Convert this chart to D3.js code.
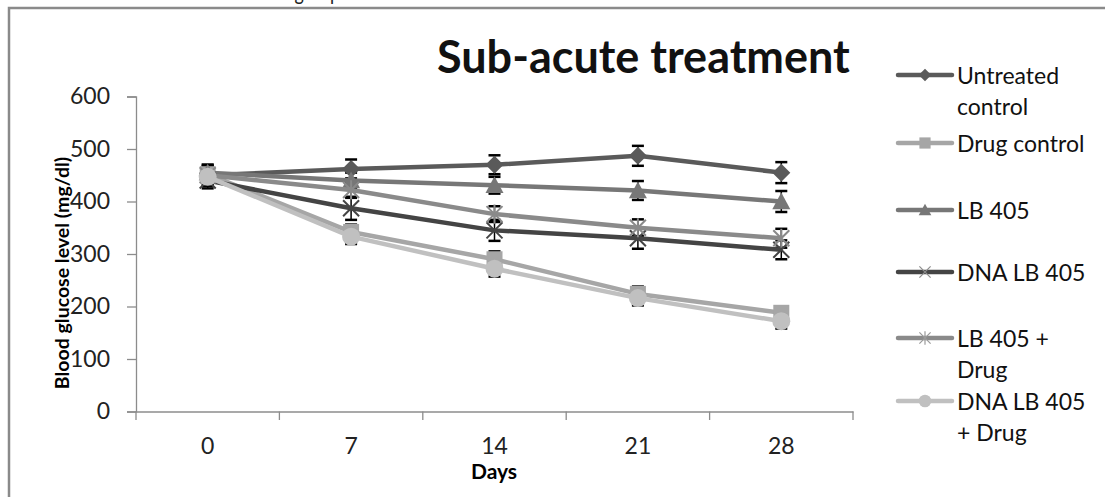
<!DOCTYPE html>
<html>
<head>
<meta charset="utf-8">
<script src="https://cdn.jsdelivr.net/npm/d3@7"></script>
<style>
  body { margin: 0; background: #fff; }
  svg { display: block; font-family: Lato, "Open Sans", sans-serif; }
</style>
</head>
<body>
<div id="chart"></div>
<script>
// days on the x axis
const days = ["0", "7", "14", "21", "28"];
const yTicks = [0, 100, 200, 300, 400, 500, 600];

// series (mean blood glucose, mg/dl) and their error bars
const seriesNames = ["Untreated control", "Drug control", "LB 405", "DNA LB 405", "LB 405 + Drug", "DNA LB 405 + Drug"];
const untreated = [450, 462, 470, 487, 455];
const drugControl = [452, 342, 290, 224, 188];
const lb405 = [455, 440, 431, 421, 400];
const dnaLb405 = [440, 387, 345, 330, 308];
const lb405Drug = [450, 422, 376, 350, 330];
const dnaLb405Drug = [447, 333, 272, 216, 172];

const untreatedErr = [20, 18, 18, 19, 20];
const drugControlErr = [15, 14, 15, 14, 12];
const lb405Err = [15, 15, 16, 18, 20];
const dnaLb405Err = [15, 22, 20, 20, 18];
const lb405DrugErr = [15, 15, 15, 16, 18];
const dnaLb405DrugErr = [15, 14, 15, 14, 14];

const width = 1105, height = 497;
const svg = d3.select("#chart").append("svg")
    .attr("width", width)
    .attr("height", height);

// caption above the frame, cut by the top edge like in the source
svg.append("text")
    .attr("x", 15).attr("y", 0)
    .attr("font-size", 22)
    .attr("fill", "#222")
    .attr("textLength", 325)
    .attr("lengthAdjust", "spacingAndGlyphs")
    .text("serum of the treated and untreated group");

// outer frame (runs off the page right and bottom)
svg.append("rect")
    .attr("x", 9).attr("y", 8)
    .attr("width", 1200).attr("height", 600)
    .attr("fill", "#fff")
    .attr("stroke", "#8a8a8a")
    .attr("stroke-width", 2.5);

const x = d3.scaleBand().domain(days).range([136, 853]);
const y = d3.scaleLinear().domain([0, 600]).range([411.5, 96.5]);

// axes
const yAxis = svg.append("g")
    .attr("transform", "translate(136,0)")
    .call(d3.axisLeft(y).tickValues(yTicks).tickSize(9).tickPadding(17));
const xAxis = svg.append("g")
    .attr("transform", "translate(0,411.5)")
    .call(d3.axisBottom(x).tickSize(0).tickPadding(26));

[yAxis, xAxis].forEach(g => {
    g.select(".domain").attr("stroke", "#8c8c8c").attr("stroke-width", 1.3);
    g.selectAll(".tick line").attr("stroke", "#8c8c8c").attr("stroke-width", 1.3);
    g.selectAll(".tick text").attr("font-size", 23).attr("fill", "#222")
        .attr("font-family", "Lato, sans-serif");
});

// category boundary ticks on x axis
svg.append("g").selectAll("line")
    .data(days.concat(["end"]))
    .join("line")
    .attr("x1", (d, i) => 136 + i * x.bandwidth())
    .attr("x2", (d, i) => 136 + i * x.bandwidth())
    .attr("y1", 411.5).attr("y2", 420)
    .attr("stroke", "#8c8c8c").attr("stroke-width", 1.3);

// axis titles
svg.append("text")
    .attr("x", 494).attr("y", 479)
    .attr("text-anchor", "middle")
    .attr("font-size", 21).attr("font-weight", "bold")
    .text("Days");

svg.append("text")
    .attr("transform", "translate(69,273) rotate(-90)")
    .attr("text-anchor", "middle")
    .attr("font-size", 19.5).attr("font-weight", "bold")
    .text("Blood glucose level (mg/dl)");

// chart title
const title = svg.append("text")
    .attr("x", 437).attr("y", 73)
    .attr("font-size", 38).attr("font-weight", "bold")
    .attr("fill", "#111")
    .text("Sub-acute treatment");
const tw = title.node().getComputedTextLength();
title.attr("font-size", 38 * 413 / tw);

const series = [
    {name: seriesNames[0], values: untreated, err: untreatedErr, color: "#5a5a5a", marker: "diamond"},
    {name: seriesNames[1], values: drugControl, err: drugControlErr, color: "#a6a6a6", marker: "square"},
    {name: seriesNames[2], values: lb405, err: lb405Err, color: "#777777", marker: "triangle"},
    {name: seriesNames[3], values: dnaLb405, err: dnaLb405Err, color: "#444444", marker: "x"},
    {name: seriesNames[4], values: lb405Drug, err: lb405DrugErr, color: "#8a8a8a", marker: "star"},
    {name: seriesNames[5], values: dnaLb405Drug, err: dnaLb405DrugErr, color: "#c0c0c0", marker: "circle"}
];

const cx = d => x(d) + x.bandwidth() / 2;

// error bars
const eb = svg.append("g");
series.forEach(s => {
    days.forEach((d, i) => {
        const v = s.values[i], e = s.err[i];
        eb.append("line")
            .attr("x1", cx(d)).attr("x2", cx(d))
            .attr("y1", y(v - e)).attr("y2", y(v + e))
            .attr("stroke", "#000").attr("stroke-width", 1.5);
        [v - e, v + e].forEach(t => {
            eb.append("line")
                .attr("x1", cx(d) - 6).attr("x2", cx(d) + 6)
                .attr("y1", y(t)).attr("y2", y(t))
                .attr("stroke", "#000").attr("stroke-width", 2.5);
        });
    });
});

function drawMarker(g, type, px, py, color, big) {
    const k = big ? 1 : 0.7;
    if (type === "diamond") {
        const r = 9 * k;
        g.append("path").attr("d", `M${px},${py - r}L${px + r},${py}L${px},${py + r}L${px - r},${py}Z`)
            .attr("fill", color);
    } else if (type === "square") {
        const r = 8 * k;
        g.append("rect").attr("x", px - r).attr("y", py - r).attr("width", 2 * r).attr("height", 2 * r)
            .attr("fill", color);
    } else if (type === "triangle") {
        const r = 9 * k;
        g.append("path").attr("d", `M${px},${py - r}L${px + r},${py + r * 0.85}L${px - r},${py + r * 0.85}Z`)
            .attr("fill", color);
    } else if (type === "x") {
        const r = 8 * k;
        g.append("path").attr("d", `M${px - r},${py - r}L${px + r},${py + r}M${px - r},${py + r}L${px + r},${py - r}`)
            .attr("stroke", big ? color : "#8c8c8c").attr("stroke-width", big ? 2 : 1.2);
    } else if (type === "star") {
        const r = 8 * k;
        g.append("path").attr("d", `M${px - r},${py - r}L${px + r},${py + r}M${px - r},${py + r}L${px + r},${py - r}M${px},${py - r * 1.2}L${px},${py + r * 1.2}`)
            .attr("stroke", big ? color : "#9a9a9a").attr("stroke-width", big ? 2 : 1.2);
    } else if (type === "circle") {
        g.append("circle").attr("cx", px).attr("cy", py).attr("r", 9 * k)
            .attr("fill", color);
    }
}

// lines + markers
const line = d3.line().x((v, i) => cx(days[i])).y(v => y(v));
const lg = svg.append("g");
series.forEach(s => {
    lg.append("path")
        .attr("d", line(s.values))
        .attr("fill", "none")
        .attr("stroke", s.color)
        .attr("stroke-width", 4.5)
        .attr("stroke-linejoin", "round");
    s.values.forEach((v, i) => drawMarker(lg, s.marker, cx(days[i]), y(v), s.color, true));
});

// legend
const legendY = [75, 143, 210, 272, 338, 401];
const legendLines = [["Untreated", "control"], ["Drug control"], ["LB 405"], ["DNA LB 405"], ["LB 405 +", "Drug"], ["DNA LB 405", "+ Drug"]];
const leg = svg.append("g");
series.forEach((s, i) => {
    const ly = legendY[i];
    leg.append("line")
        .attr("x1", 898).attr("x2", 952)
        .attr("y1", ly).attr("y2", ly)
        .attr("stroke", s.color).attr("stroke-width", 4.5)
        .attr("stroke-linecap", "round");
    drawMarker(leg, s.marker, 925, ly, s.color, false);
    const t = leg.append("text")
        .attr("x", 957).attr("y", ly + 9)
        .attr("font-size", 23).attr("fill", "#111");
    legendLines[i].forEach((l, j) => {
        t.append("tspan").attr("x", 957).attr("dy", j === 0 ? 0 : 31).text(l);
    });
});
</script>
</body>
</html>
